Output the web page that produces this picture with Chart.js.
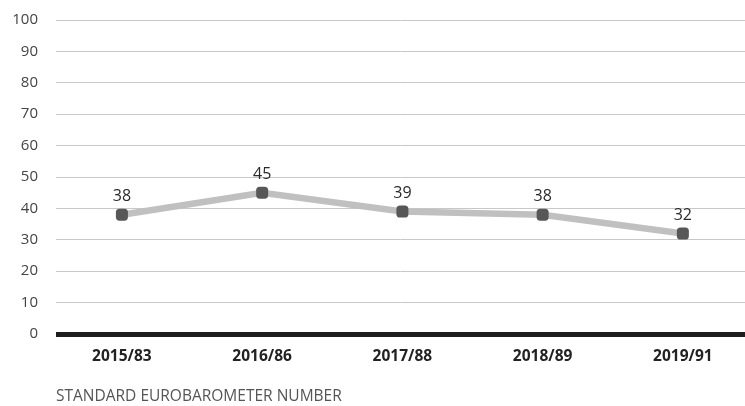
<!DOCTYPE html>
<html><head><meta charset="utf-8">
<script src="https://cdn.jsdelivr.net/npm/chart.js@4/dist/chart.umd.min.js"></script>
<style>html,body{margin:0;padding:0;background:#fff}#wrap{width:745px;height:406px}</style>
</head><body><div id="wrap"><canvas id="c"></canvas></div>
<script>
const categories = ["2015/83", "2016/86", "2017/88", "2018/89", "2019/91"];
const values = [38, 45, 39, 38, 32];
const yTicks = [0, 10, 20, 30, 40, 50, 60, 70, 80, 90, 100];
const axisTitle = "STANDARD EUROBAROMETER NUMBER";

const labelPlugin = {
  id: 'valueLabels',
  afterDatasetsDraw(chart) {
    const ctx = chart.ctx;
    const meta = chart.getDatasetMeta(0);
    ctx.save();
    ctx.font = '16px "Open Sans", sans-serif';
    ctx.fillStyle = '#2a2a2a';
    ctx.textAlign = 'center';
    ctx.textBaseline = 'middle';
    meta.data.forEach((pt, i) => {
      ctx.fillText(String(values[i]), pt.x, pt.y - 18);
    });
    ctx.restore();
  }
};

new Chart(document.getElementById('c'), {
  type: 'line',
  data: {
    datasets: [{
      data: values.map((v, i) => ({x: i, y: v})),
      borderColor: '#c0c0c0',
      borderWidth: 6.5,
      pointRadius: 7,
      pointBackgroundColor: '#575757',
      pointBorderColor: '#575757',
      pointBorderWidth: 0,
      pointStyle: 'rectRounded',
      tension: 0,
      clip: false
    }]
  },
  options: {
    responsive: true,
    maintainAspectRatio: false,
    animation: false,
    layout: {autoPadding: false, padding: {top: 20, right: 0, left: 0, bottom: 0}},
    plugins: {legend: {display: false}, tooltip: {enabled: false}},
    scales: {
      x: {
        type: 'linear',
        min: -0.47,
        max: 4.443,
        afterBuildTicks(axis) { axis.ticks = categories.map((c, i) => ({value: i})); },
        afterFit(axis) { axis.height = 72; axis.paddingLeft = 0; axis.paddingRight = 0; },
        ticks: {
          callback: (v) => categories[v],
          font: {family: '"Open Sans", sans-serif', size: 15.5, weight: 'bold'},
          color: '#222',
          padding: 13,
          maxRotation: 0
        },
        grid: {display: false, drawTicks: false},
        border: {display: false},
        title: {
          display: true,
          text: axisTitle,
          align: 'start',
          color: '#555',
          font: {family: '"Open Sans", sans-serif', size: 15.5},
          padding: {top: 13, bottom: 0}
        }
      },
      y: {
        min: 0, max: 100,
        afterBuildTicks(axis) { axis.ticks = yTicks.map(v => ({value: v})); },
        afterFit(axis) { axis.width = 56; axis.paddingTop = 0; axis.paddingBottom = 0; },
        ticks: {
          font: {family: '"Open Sans", sans-serif', size: 15},
          color: '#444',
          padding: 18
        },
        grid: {
          drawTicks: false,
          color: (c) => c.tick && c.tick.value === 0 ? '#1e1e1e' : '#c8c8c8',
          lineWidth: (c) => c.tick && c.tick.value === 0 ? 5 : 1
        },
        border: {display: false}
      }
    }
  },
  plugins: [labelPlugin]
});
</script></body></html>
